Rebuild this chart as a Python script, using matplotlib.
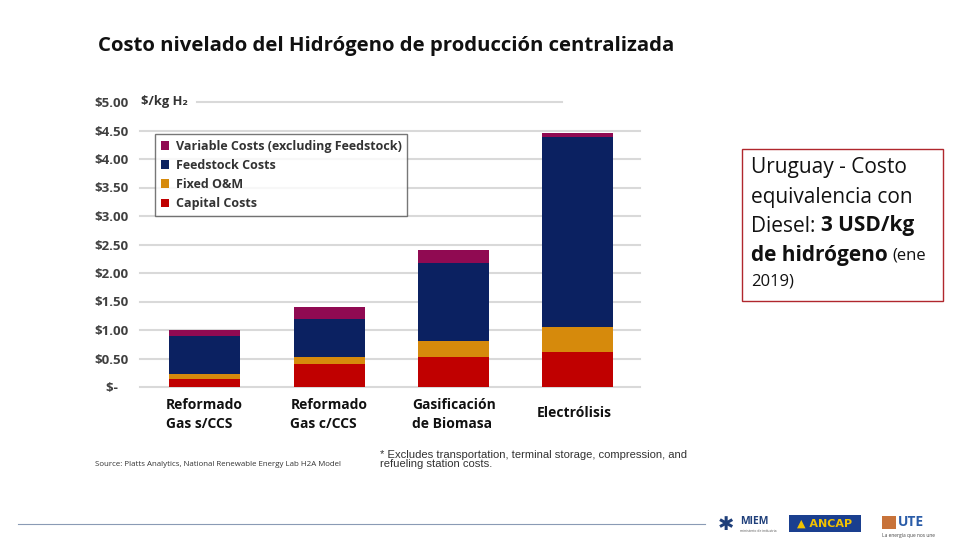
import matplotlib
matplotlib.use("Agg")
import matplotlib.pyplot as plt
from matplotlib.patches import Rectangle
import numpy as np

plt.rcParams['font.family'] = ['Open Sans', 'DejaVu Sans']

categories = ["Reformado\nGas s/CCS", "Reformado\nGas c/CCS", "Gasificación\nde Biomasa", "Electrólisis"]
capital = [0.14, 0.40, 0.52, 0.61]
fixed_om = [0.08, 0.12, 0.28, 0.45]
feedstock = [0.67, 0.67, 1.37, 3.32]
variable = [0.11, 0.22, 0.24, 0.07]
series_names = ["Capital Costs", "Fixed O&M", "Feedstock Costs", "Variable Costs (excluding Feedstock)"]
series_colors = ["#c00000", "#d68a0c", "#0b2161", "#900a52"]
yticks = [0.0, 0.5, 1.0, 1.5, 2.0, 2.5, 3.0, 3.5, 4.0, 4.5, 5.0]

fig = plt.figure(figsize=(9.6, 5.4), dpi=100)
fig.patch.set_facecolor("white")

# Title
fig.text(98/960, 1-46/540, "Costo nivelado del Hidrógeno de producción centralizada",
         fontsize=14.7, fontweight="bold", color="#111111", va="center", ha="left")

ax = fig.add_axes([140/960, 1-387/540, 500/960, (387-102)/540])
x = np.arange(len(categories))
bottom = np.zeros(len(categories))
bars = []
for vals, name, col in zip([capital, fixed_om, feedstock, variable], series_names, series_colors):
    b = ax.bar(x, vals, width=0.57, bottom=bottom, color=col, label=name, zorder=3)
    bars.append(b)
    bottom = bottom + np.array(vals)

ax.set_xlim(-0.52, 3.5)
ax.set_ylim(0, 5.0)
for v in yticks:
    if v == 5.0:
        ax.axhline(v, xmin=(197-140)/500, xmax=(562-140)/500, color="#d9d9d9", lw=1.5, zorder=1, clip_on=False)
    else:
        ax.axhline(v, color="#d9d9d9", lw=1.5, zorder=1, clip_on=False)
for s in ax.spines.values():
    s.set_visible(False)
ax.set_yticks(yticks)
ax.set_yticklabels(["$-   " if v == 0 else "$%.2f" % v for v in yticks],
                   fontsize=9.5, fontweight="bold", color="#404040")
ax.tick_params(axis="y", length=0, pad=8.5)
ax.set_xticks([])

ax.text(-0.52 + 0.01, 5.0, "$/kg H₂", fontsize=9.3, fontweight="bold", color="#333333",
        va="center", ha="left", family=['Open Sans', 'DejaVu Sans'])

# category labels
label_offsets = [-0.31, -0.31, -0.33, -0.33]
for i, c in enumerate(categories):
    if "\n" in c:
        ax.text(i + label_offsets[i], -0.2, c, fontsize=10, fontweight="bold", color="#111111",
                ha="left", va="top", linespacing=1.45)
    else:
        ax.text(i + label_offsets[i], -0.46, c, fontsize=10, fontweight="bold", color="#111111",
                ha="left", va="center")

# legend
handles = [bars[3], bars[2], bars[1], bars[0]]
labels = [series_names[3], series_names[2], series_names[1], series_names[0]]
leg = ax.legend(handles, labels, loc="upper left", bbox_to_anchor=((155-140)/500, (387-134)/285),
                fontsize=9, frameon=True, fancybox=False, edgecolor="#555555",
                handlelength=0.7, handleheight=0.7, handletextpad=0.5, labelspacing=0.5,
                borderpad=0.45, borderaxespad=0)
leg.get_frame().set_linewidth(1.0)
for t in leg.get_texts():
    t.set_fontweight("bold")
    t.set_color("#333333")

# source & footnote
fig.text(95/960, 1-464/540, "Source: Platts Analytics, National Renewable Energy Lab H2A Model",
         fontsize=5.7, color="#333333", ha="left", va="center")
fig.text(380/960, 1-459.5/540, "* Excludes transportation, terminal storage, compression, and\nrefueling station costs.",
         fontsize=8.1, color="#333333", ha="left", va="center", family=["Liberation Sans", "DejaVu Sans"],
         linespacing=0.95)

# Right text box
fig.patches.append(Rectangle((742/960, 1-301/540), (943-742)/960, (301-149)/540,
                             transform=fig.transFigure, fill=False, edgecolor="#b0272d", lw=1.0))
tx = 751/960
lines_y = [167, 197, 226, 255, 281]
fs_main = 15
fs_small = 12
fig.text(tx, 1-lines_y[0]/540, "Uruguay - Costo", fontsize=fs_main, color="#111111", va="center", ha="left")
fig.text(tx, 1-lines_y[1]/540, "equivalencia con", fontsize=fs_main, color="#111111", va="center", ha="left")
t1 = fig.text(tx, 1-lines_y[2]/540, "Diesel: ", fontsize=fs_main, color="#111111", va="center", ha="left")
fig.canvas.draw()
r = fig.canvas.get_renderer()
bb = t1.get_window_extent(r)
fig.text(bb.x1/960, 1-lines_y[2]/540, "3 USD/kg", fontsize=fs_main, fontweight="bold", color="#111111", va="center", ha="left")
t2 = fig.text(tx, 1-lines_y[3]/540, "de hidrógeno", fontsize=fs_main, fontweight="bold", color="#111111", va="center", ha="left")
bb2 = t2.get_window_extent(r)
fig.text(bb2.x1/960 + 5/960, 1-lines_y[3]/540, "(ene", fontsize=fs_small, color="#111111", va="center", ha="left")
fig.text(tx, 1-lines_y[4]/540, "2019)", fontsize=fs_small, color="#111111", va="center", ha="left")

# footer line
fig.add_artist(plt.Line2D([18/960, 705/960], [1-524/540, 1-524/540], transform=fig.transFigure,
                          color="#8a9bb5", lw=0.8))

# logos as text
fig.text(718/960, 1-524/540, "✱", fontsize=14, color="#1f3f7a", va="center", ha="left", family=["DejaVu Sans"])
fig.text(740/960, 1-522/540, "MIEM", fontsize=7.5, fontweight="bold", color="#1f3f7a", va="center", ha="left")
fig.text(740/960, 1-531/540, "ministerio de industria", fontsize=2.5, color="#555555", va="center", ha="left")
fig.patches.append(Rectangle((789/960, 1-532/540), (861-789)/960, (532-515)/540,
                             transform=fig.transFigure, facecolor="#1a3f8f", edgecolor="none"))
fig.text(825/960, 1-523.5/540, "▲ ANCAP", fontsize=8, fontweight="bold", color="#f2c200",
         va="center", ha="center", family=["DejaVu Sans"])
fig.patches.append(Rectangle((882/960, 1-529/540), (896-882)/960, (529-516)/540,
                             transform=fig.transFigure, facecolor="#c8733a", edgecolor="none"))
fig.text(898/960, 1-522/540, "UTE", fontsize=10, fontweight="bold", color="#2a5ca8", va="center", ha="left")
fig.text(882/960, 1-535/540, "La energía que nos une", fontsize=3.5, color="#444444", va="center", ha="left")

fig.savefig("out.png", dpi=100, facecolor="white")
